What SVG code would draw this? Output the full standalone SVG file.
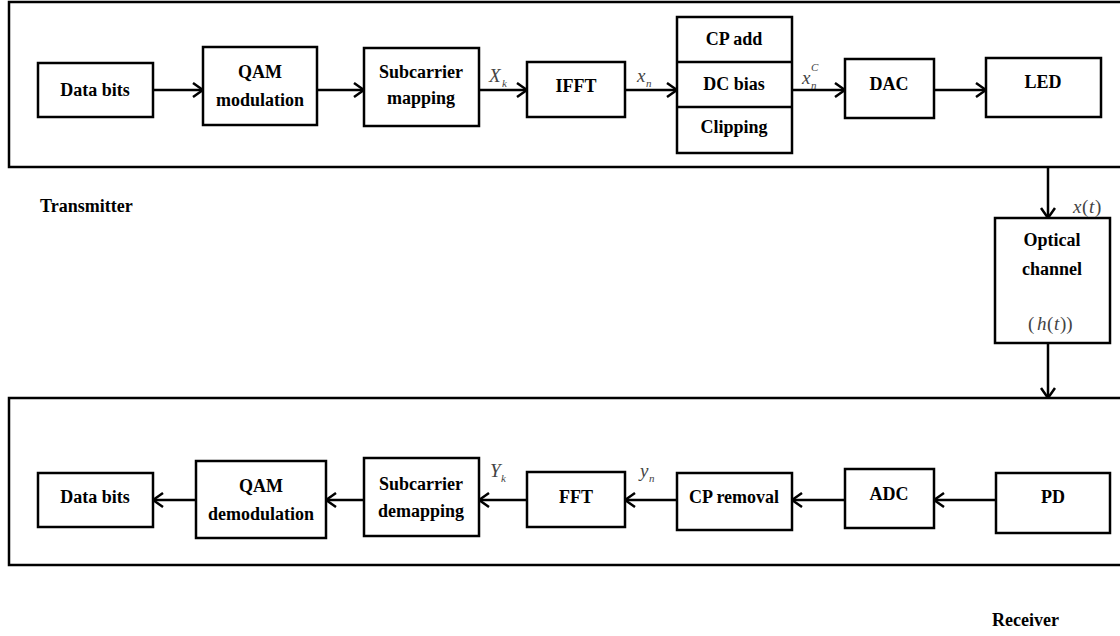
<svg xmlns="http://www.w3.org/2000/svg" width="1120" height="636" viewBox="0 0 1120 636">
<style>
.box{fill:#fff;stroke:#000;stroke-width:2.5}
.frame{fill:none;stroke:#000;stroke-width:2.5}
.t{font-family:'Liberation Serif','Tinos','DejaVu Serif','Times New Roman',serif;font-weight:bold;font-size:18px;text-anchor:middle;fill:#000}
.lbl{font-family:'Liberation Serif','Tinos','DejaVu Serif','Times New Roman',serif;font-weight:bold;font-size:18px;fill:#000}
.m{font-family:'Liberation Serif','Tinos','DejaVu Serif','Times New Roman',serif;font-style:italic;font-size:19px;fill:#444}
.ms{font-family:'Liberation Serif','Tinos','DejaVu Serif','Times New Roman',serif;font-style:italic;font-size:11px;fill:#444}
.mp{font-family:'Liberation Serif','Tinos','DejaVu Serif','Times New Roman',serif;font-size:19px;fill:#444}
.c{fill:none;stroke:#000;stroke-width:2.5;marker-end:url(#arr)}
</style>
<defs>
<marker id="arr" viewBox="0 0 12 16" refX="11" refY="8" markerWidth="12" markerHeight="16" orient="auto" markerUnits="userSpaceOnUse">
<path d="M1,1 L11,8 L1,15" fill="none" stroke="#000" stroke-width="2.5"/>
</marker>
</defs>
<g id="transmitter-frame"><rect class="frame" x="9" y="2" width="1130" height="165"/></g>
<g id="receiver-frame"><rect class="frame" x="9" y="398" width="1130" height="167"/></g>
<g id="connectors">
<line class="c" x1="153" y1="90" x2="203" y2="90"/>
<line class="c" x1="317" y1="90" x2="364" y2="90"/>
<line class="c" x1="479" y1="90" x2="527" y2="90"/>
<line class="c" x1="625" y1="90" x2="677" y2="90"/>
<line class="c" x1="792" y1="90" x2="845" y2="90"/>
<line class="c" x1="934" y1="90" x2="986" y2="90"/>
<line class="c" x1="1048" y1="167" x2="1048" y2="218"/>
<line class="c" x1="1048" y1="343" x2="1048" y2="398"/>
<line class="c" x1="996" y1="500" x2="934" y2="500"/>
<line class="c" x1="845" y1="500" x2="792" y2="500"/>
<line class="c" x1="677" y1="500" x2="625" y2="500"/>
<line class="c" x1="527" y1="500" x2="479" y2="500"/>
<line class="c" x1="364" y1="500" x2="326" y2="500"/>
<line class="c" x1="196" y1="500" x2="153" y2="500"/>
</g>
<g id="tx-data-bits"><rect class="box" x="38" y="63" width="115" height="54"/><text class="t" x="95" y="96">Data bits</text></g>
<g id="qam-mod"><rect class="box" x="203" y="47" width="114" height="78"/><text class="t" x="260" y="78">QAM</text><text class="t" x="260" y="106">modulation</text></g>
<g id="subcarrier-mapping"><rect class="box" x="364" y="48" width="115" height="78"/><text class="t" x="421" y="78">Subcarrier</text><text class="t" x="421" y="104">mapping</text></g>
<g id="ifft"><rect class="box" x="527" y="62" width="98" height="55"/><text class="t" x="576" y="92">IFFT</text></g>
<g id="cp-dc-clip"><rect class="box" x="677" y="17" width="115" height="136"/><line x1="677" y1="62" x2="792" y2="62" stroke="#000" stroke-width="2.5"/><line x1="677" y1="107" x2="792" y2="107" stroke="#000" stroke-width="2.5"/><text class="t" x="734" y="45">CP add</text><text class="t" x="734" y="90">DC bias</text><text class="t" x="734" y="133">Clipping</text></g>
<g id="dac"><rect class="box" x="845" y="59" width="89" height="59"/><text class="t" x="889" y="90">DAC</text></g>
<g id="led"><rect class="box" x="986" y="58" width="115" height="59"/><text class="t" x="1043" y="88">LED</text></g>
<g id="optical-channel"><rect class="box" x="995" y="218" width="115" height="125"/><text class="t" x="1052" y="246">Optical</text><text class="t" x="1052" y="275">channel</text><text class="mp" x="1028" y="330">(</text><text class="m" x="1037" y="330">h</text><text class="mp" x="1047" y="330">(</text><text class="m" x="1054" y="330">t</text><text class="mp" x="1060" y="330">))</text></g>
<g id="rx-pd"><rect class="box" x="996" y="473" width="114" height="60"/><text class="t" x="1053" y="503">PD</text></g>
<g id="adc"><rect class="box" x="845" y="469" width="89" height="59"/><text class="t" x="889" y="500">ADC</text></g>
<g id="cp-removal"><rect class="box" x="677" y="473" width="115" height="57"/><text class="t" x="734" y="503">CP removal</text></g>
<g id="fft"><rect class="box" x="527" y="472" width="98" height="55"/><text class="t" x="576" y="503">FFT</text></g>
<g id="subcarrier-demapping"><rect class="box" x="364" y="458" width="115" height="78"/><text class="t" x="421" y="490">Subcarrier</text><text class="t" x="421" y="517">demapping</text></g>
<g id="qam-demod"><rect class="box" x="196" y="461" width="130" height="77"/><text class="t" x="261" y="492">QAM</text><text class="t" x="261" y="520">demodulation</text></g>
<g id="rx-data-bits"><rect class="box" x="38" y="473" width="115" height="54"/><text class="t" x="95" y="503">Data bits</text></g>
<g id="labels">
<text class="lbl" x="40" y="212">Transmitter</text>
<text class="lbl" x="992" y="626">Receiver</text>
<text class="m" x="489" y="82">X</text><text class="ms" x="502" y="87">k</text>
<text class="m" x="637" y="82">x</text><text class="ms" x="646" y="87">n</text>
<text class="m" x="802" y="84">x</text><text class="ms" x="811" y="89">n</text><text class="ms" x="811" y="71">C</text>
<text class="m" x="490" y="477">Y</text><text class="ms" x="501" y="482">k</text>
<text class="m" x="640" y="477">y</text><text class="ms" x="649" y="482">n</text>
<text class="m" x="1073" y="213">x</text><text class="mp" x="1082" y="213">(</text><text class="m" x="1089" y="213">t</text><text class="mp" x="1095" y="213">)</text>
</g>
</svg>
